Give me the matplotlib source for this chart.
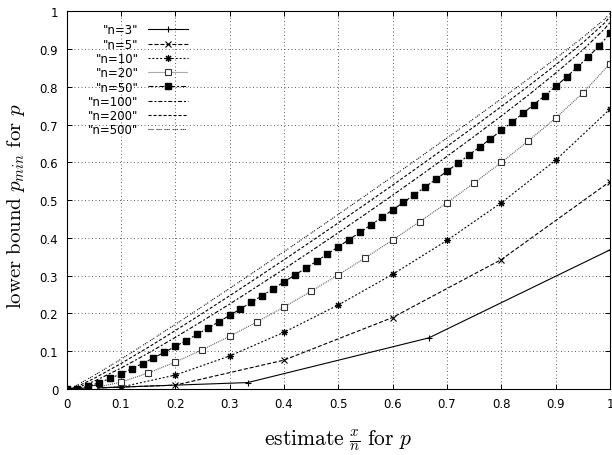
import numpy as np
import matplotlib
matplotlib.use('Agg')
import matplotlib.pyplot as plt

plt.rcParams['font.family'] = 'DejaVu Sans'
plt.rcParams['mathtext.fontset'] = 'cm'
plt.rcParams['lines.scale_dashes'] = False

# lower bound p_min, one value per estimate x/n = 0, 1/n, ..., 1
lb_n3 = [0, 0.0170, 0.1353, 0.3684]
lb_n5 = [0, 0.0102, 0.0764, 0.1893, 0.3426, 0.5493]
lb_n10 = [0, 0.0051, 0.0368, 0.0873, 0.1500, 0.2224, 0.3035, 0.3933, 0.4931, 0.6058, 0.7411]
lb_n20 = [0, 0.0026, 0.0181, 0.0422, 0.0713, 0.1040, 0.1396, 0.1772, 0.2169, 0.2587, 0.3021,
          0.3476, 0.3945, 0.4430, 0.4933, 0.5455, 0.5999, 0.6570, 0.7174, 0.7838, 0.8609]
lb_n50 = [0, 0.0010, 0.0072, 0.0166, 0.0278, 0.0402, 0.0536, 0.0675, 0.0821, 0.0972, 0.1126,
          0.1284, 0.1446, 0.1610, 0.1778, 0.1948, 0.2120, 0.2295, 0.2472, 0.2651, 0.2832,
          0.3015, 0.3199, 0.3386, 0.3574, 0.3764, 0.3956, 0.4149, 0.4345, 0.4542, 0.4741,
          0.4942, 0.5145, 0.5349, 0.5556, 0.5765, 0.5976, 0.6189, 0.6405, 0.6624, 0.6845,
          0.7070, 0.7298, 0.7531, 0.7767, 0.8011, 0.8262, 0.8521, 0.8794, 0.9086, 0.9418]

# big n: drawn without points, so a coarser set of estimates is enough
est_big = [0, 0.01, 0.02, 0.05, 0.10, 0.15, 0.20, 0.25, 0.30, 0.35, 0.40, 0.45, 0.50,
           0.55, 0.60, 0.65, 0.70, 0.75, 0.80, 0.85, 0.90, 0.95, 0.99, 1.0]
lb_n100 = [0, 0.0005, 0.0036, 0.0199, 0.0551, 0.0946, 0.1365, 0.1800, 0.2248, 0.2707, 0.3175,
           0.3652, 0.4137, 0.4630, 0.5130, 0.5640, 0.6158, 0.6687, 0.7228, 0.7783, 0.8364,
           0.8977, 0.9535, 0.9705]
lb_n200 = [0, 0.0018, 0.0068, 0.0274, 0.0672, 0.1100, 0.1545, 0.2001, 0.2467, 0.2940, 0.3419,
           0.3905, 0.4397, 0.4894, 0.5397, 0.5906, 0.6422, 0.6945, 0.7477, 0.8020, 0.8581,
           0.9168, 0.9690, 0.9851]
lb_n500 = [0, 0.0039, 0.0109, 0.0351, 0.0787, 0.1243, 0.1709, 0.2183, 0.2662, 0.3146, 0.3635,
           0.4127, 0.4623, 0.5123, 0.5626, 0.6133, 0.6645, 0.7161, 0.7683, 0.8212, 0.8751,
           0.9310, 0.9790, 0.9940]

ticks = [0, 0.1, 0.2, 0.3, 0.4, 0.5, 0.6, 0.7, 0.8, 0.9, 1]
tick_labels = ['0', '0.1', '0.2', '0.3', '0.4', '0.5', '0.6', '0.7', '0.8', '0.9', '1']

fig = plt.figure(figsize=(6.12, 4.56), dpi=100)
ax = fig.add_axes([66.5 / 612, 66 / 456, 543.5 / 612, 377.7 / 456])

def grid_x(vals):
    return np.linspace(0, 1, len(vals))

lw = 0.8
ax.plot(grid_x(lb_n3), lb_n3, color='black', lw=lw, ls='-', marker='+', ms=5, mew=0.8,
        label='"n=3"')
ax.plot(grid_x(lb_n5), lb_n5, color='black', lw=lw, ls=(0, (2.9, 1.4)), marker='x', ms=4,
        mew=0.8, label='"n=5"')
ax.plot(grid_x(lb_n10), lb_n10, color='black', lw=lw, ls=(0, (1.4, 1.4)), marker=(8, 2, 0),
        ms=5, mew=0.8, label='"n=10"')
ax.plot(grid_x(lb_n20), lb_n20, color='0.35', lw=lw, ls=(0, (0.72, 0.72)), marker='s', ms=5,
        mfc='white', mec='0.2', mew=0.8, label='"n=20"')
ax.plot(grid_x(lb_n50), lb_n50, color='black', lw=lw, ls=(0, (3.6, 1.4, 1.4, 1.4)), marker='s',
        ms=4.8, mfc='black', mec='black', label='"n=50"')
ax.plot(est_big, lb_n100, color='black', lw=lw, ls=(0, (2.9, 1.4, 1.4, 1.4)), label='"n=100"')
ax.plot(est_big, lb_n200, color='black', lw=lw, ls=(0, (2.2, 1.4)), label='"n=200"')
ax.plot(est_big, lb_n500, color='black', lw=lw,
        ls=(0, (0.72, 0.72, 0.72, 0.72, 0.72, 2.2)), label='"n=500"')

ax.set_xlim(0, 1)
ax.set_ylim(0, 1)
ax.set_xticks(ticks)
ax.set_xticklabels(tick_labels)
ax.set_yticks(ticks)
ax.set_yticklabels(tick_labels)
ax.tick_params(direction='in', top=True, right=True, length=3.5, width=0.7,
               labelsize=8.5, pad=6)
ax.grid(True, color='0.3', lw=0.6, ls=(0, (0.72, 1.8)))
for sp in ax.spines.values():
    sp.set_linewidth(0.8)

ax.legend(loc='upper right', bbox_to_anchor=(0.2236, 0.968), frameon=False, markerfirst=False,
          handlelength=3.4, handletextpad=0.8, labelspacing=0.11, borderpad=0,
          borderaxespad=0, fontsize=8.5)

fig.text(16 / 612, 1 - 206 / 456, r'$\mathrm{lower\ bound}\ p_{min}\ \mathrm{for}\ p$',
         rotation=90, ha='center', va='center', fontsize=15)
fig.text(338 / 612, 1 - 441 / 456, r'$\mathrm{estimate}\ \frac{x}{n}\ \mathrm{for}\ p$',
         ha='center', va='center', fontsize=15.5)

fig.savefig('out.png', dpi=100)
